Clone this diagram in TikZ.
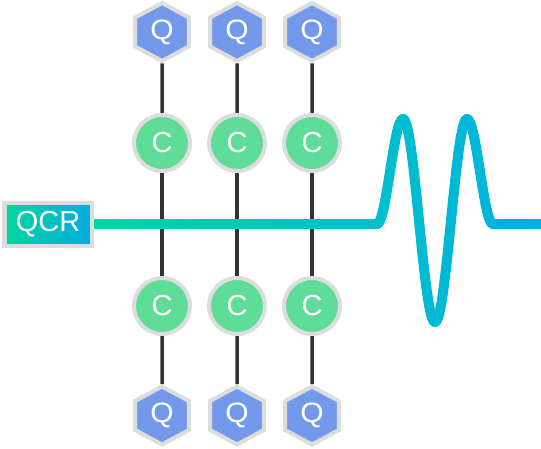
\documentclass[tikz,border=0pt]{standalone}
\usepackage{fontspec}
\setmainfont{Liberation Sans}
\usetikzlibrary{shapes.geometric}
\definecolor{rimgray}{RGB}{221,221,221}
\definecolor{qubitblue}{RGB}{115,154,234}
\definecolor{couplgreen}{RGB}{95,220,151}
\definecolor{stemgray}{RGB}{51,51,51}
\definecolor{waveA}{RGB}{0,216,162}
\definecolor{waveB}{RGB}{0,176,228}
\definecolor{qcrL}{RGB}{0,214,158}
\definecolor{qcrR}{RGB}{0,172,224}
\begin{document}
\begin{tikzpicture}[x=1pt, y=-1pt,
    qubit/.style={regular polygon, regular polygon sides=6, shape border rotate=30,
      minimum size=58, inner sep=0, draw=rimgray, line width=4, fill=qubitblue,
      xscale=1.07, transform shape,
      text=white, font=\fontsize{28}{28}\selectfont},
    coupler/.style={circle, minimum size=56, inner sep=0, draw=rimgray, line width=4,
      fill=couplgreen, text=white, font=\fontsize{29}{29}\selectfont},
    stem/.style={stemgray, line width=3.5},
    wire/.style={line width=10, line cap=round},
    declare function={pulse(\a)=(\a<32) ? (-3.5+101.5*cos(5.625*\a))
        : ((\a<58) ? (-52.5*(1+cos(6.923*(\a-32)))) : 0);
      wave(\x)=224+pulse(abs(\x-435));}]
  \useasboundingbox (0,0) rectangle (541,449);
  % columns of qubits and couplers
  \foreach \i/\x in {1/162,2/237,3/312}{
    \node[qubit] (qt\i) at (\x,32) {Q};
    \node[coupler] (ct\i) at (\x,143) {C};
    \node[coupler] (cb\i) at (\x,306) {C};
    \node[qubit] (qb\i) at (\x,415.5) {Q};
    \draw[stem] (qt\i) -- (ct\i);
    \draw[stem] (ct\i) -- (cb\i);
    \draw[stem] (cb\i) -- (qb\i);
  }
  % readout line with pulse
  \foreach \x in {92,...,540}{
    \pgfmathsetmacro\ya{wave(\x)}
    \pgfmathsetmacro\yb{wave(\x+1)}
    \pgfmathtruncatemacro\p{(\x-92)/4.49}
    \draw[wire, color=waveB!\p!waveA] (\x,\ya) -- (\x+1,\yb);
  }
  \node[draw=rimgray, line width=4.5, left color=qcrL, right color=qcrR,
    minimum width=87.5, minimum height=43, inner sep=0, text=white,
    font=\fontsize{29}{29}\selectfont] (qcr) at (48,224.5) {QCR};
\end{tikzpicture}
\end{document}
